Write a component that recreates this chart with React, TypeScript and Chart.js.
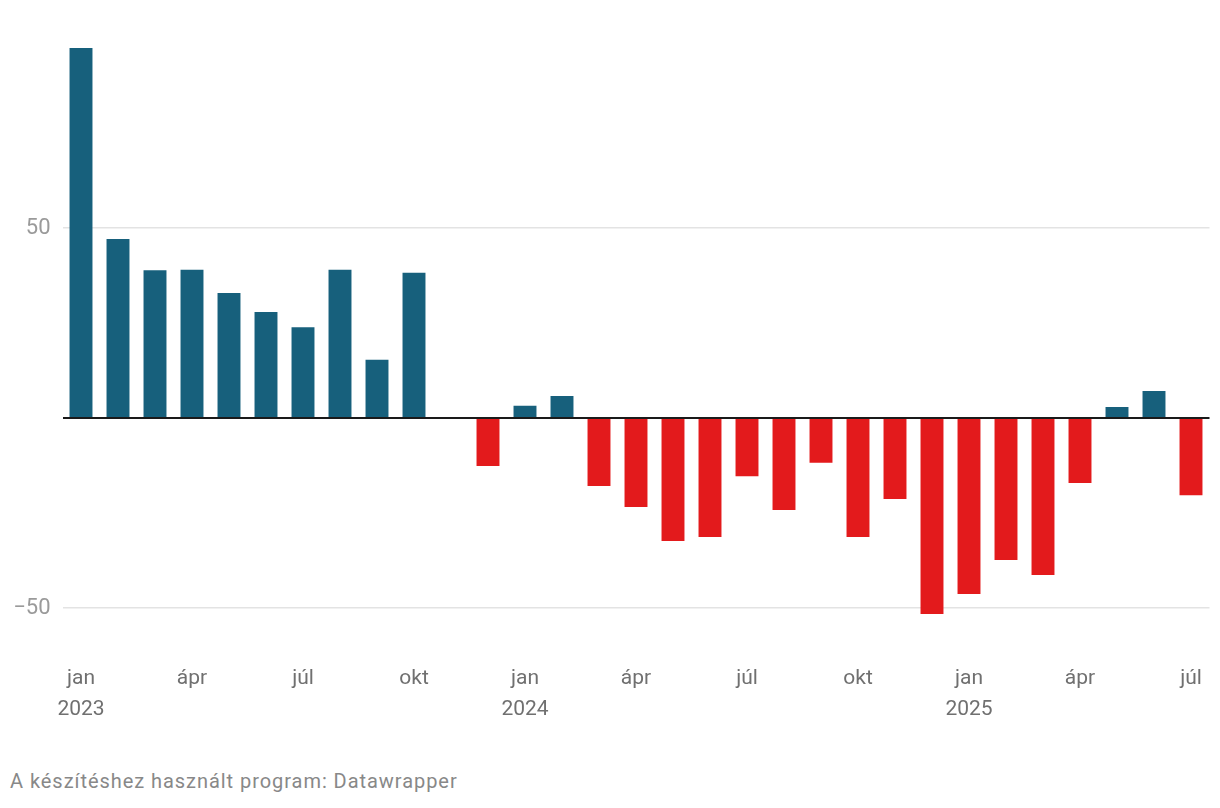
import React, { useEffect, useRef } from "react";
import { Chart, registerables } from "chart.js";

Chart.register(...registerables);

const months = ["jan", "feb", "márc", "ápr", "máj", "jún", "júl", "aug", "szept", "okt", "nov", "dec"];
const years = ["2023", "2024", "2025"];
// Jan 2023 – Jul 2025
const values: (number | null)[] = [
  97.4, 47.1, 38.9, 39.0, 32.9, 27.9, 23.9, 39.0, 15.3, 38.2, null, -12.6,
  3.2, 5.8, -17.9, -23.4, -32.4, -31.3, -15.3, -24.2, -11.8, -31.3, -21.3, -51.6,
  -46.3, -37.4, -41.3, -17.1, 2.9, 7.1, -20.3,
];
const yTicks = [-50, 0, 50];
const shownMonths = ["jan", "ápr", "júl", "okt"];

const POS = "#17607c";
const NEG = "#e31a1c";

export default function App() {
  const ref = useRef<HTMLCanvasElement>(null);
  useEffect(() => {
    document.body.style.margin = "0";
    const labels = values.map((_, i) => months[i % 12] + " " + years[Math.floor(i / 12)]);
    const chart = new Chart(ref.current!, {
      type: "bar",
      data: {
        labels,
        datasets: [
          {
            data: values,
            backgroundColor: values.map((v) => ((v ?? 0) >= 0 ? POS : NEG)),
            categoryPercentage: 1,
            barPercentage: 0.62,
          },
        ],
      },
      options: {
        animation: false,
        responsive: false,
        devicePixelRatio: 1,
        layout: { padding: { top: 38, right: 10.5, left: 0, bottom: 0 } },
        plugins: { legend: { display: false }, tooltip: { enabled: false } },
        scales: {
          x: {
            grid: { display: false, drawTicks: false },
            border: { display: false },
            ticks: {
              autoSkip: false,
              maxRotation: 0,
              padding: 37,
              color: "#707070",
              font: { family: "Roboto", size: 21, lineHeight: 1.45 },
              callback: (_v, i) => {
                const m = months[i % 12];
                if (!shownMonths.includes(m)) return "";
                if (m === "jan") return [m, years[Math.floor(i / 12)]];
                return m;
              },
            },
            afterFit: (s: any) => {
              s.height = 113;
              s.paddingLeft = 0;
              s.paddingRight = 0;
            },
          },
          y: {
            min: -55,
            max: 100,
            afterBuildTicks: (s: any) => {
              s.ticks = yTicks.map((v) => ({ value: v }));
            },
            afterFit: (s: any) => {
              s.width = 62.5;
              s.paddingTop = 0;
              s.paddingBottom = 0;
            },
            grid: {
              drawTicks: false,
              color: (c: any) => (c.tick && c.tick.value === 0 ? "#1a1a1a" : "#e3e3e3"),
              lineWidth: (c: any) => (c.tick && c.tick.value === 0 ? 2 : 1.5),
            },
            border: { display: false },
            ticks: {
              padding: 12,
              color: "#9a9a9a",
              font: { family: "Roboto", size: 22 },
              callback: (v: any) => (v === 0 ? "" : v < 0 ? "−" + Math.abs(v) : String(v)),
            },
          },
        },
      },
    });
    return () => chart.destroy();
  }, []);
  return (
    <div style={{ position: "relative", width: 1220, height: 808, background: "#fff" }}>
      <canvas ref={ref} width={1220} height={740} style={{ display: "block" }} />
      <div
        style={{
          position: "absolute",
          left: 10,
          top: 768,
          fontFamily: "Roboto",
          fontSize: 20,
          letterSpacing: "0.95px",
          color: "#888",
          lineHeight: "26px",
          whiteSpace: "nowrap",
        }}
      >
        A készítéshez használt program: Datawrapper
      </div>
    </div>
  );
}
